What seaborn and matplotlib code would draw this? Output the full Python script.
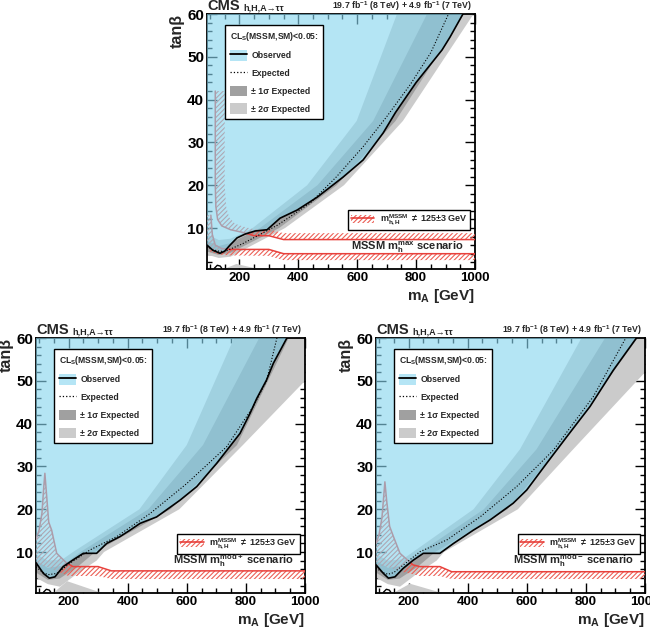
import matplotlib
matplotlib.use("Agg")
import matplotlib.pyplot as plt
import seaborn as sns
from matplotlib.patches import Patch
from matplotlib.lines import Line2D
from matplotlib.ticker import MultipleLocator

# ---------------- DATA (mA [GeV], tan beta) ----------------
# --- m_h^max scenario ---
MAX_OBS_MA = [90, 110, 134, 150, 168, 192, 220, 253, 294, 338, 396, 464, 552, 620, 688, 730, 800, 888, 915, 959, 975]
MAX_OBS_TB = [6.0, 4.8, 4.1, 4.6, 6.0, 7.7, 8.6, 9.3, 9.6, 12.3, 14.2, 17.2, 21.9, 25.9, 32.2, 37.0, 44.0, 51.6, 54.6, 60.0, 62.0]
MAX_EXP_MA = [90, 110, 130, 150, 210, 330, 440, 530, 620, 700, 780, 850, 910, 925]
MAX_EXP_TB = [5.6, 4.9, 4.6, 4.5, 6.3, 10.7, 15.8, 22.0, 29.0, 36.0, 43.5, 51.0, 60.0, 62.0]
MAX_P2_MA = [90, 130, 170, 245, 430, 598, 735, 760]
MAX_P2_TB = [8.5, 7.2, 7.5, 10.0, 20.0, 35.0, 60.0, 66.0]
MAX_P1_MA = [90, 130, 170, 270, 465, 654, 837, 860]
MAX_P1_TB = [7.0, 5.8, 6.5, 10.0, 20.0, 35.0, 60.0, 66.0]
MAX_M1_MA = [90, 130, 170, 335, 530, 730, 962, 1000, 1000]
MAX_M1_TB = [4.5, 3.7, 4.2, 10.0, 20.0, 35.0, 60.0, 64.0, 66.0]
MAX_M2_MA = [90, 130, 170, 355, 555, 755, 995, 1000, 1000]
MAX_M2_TB = [3.8, 3.0, 3.3, 10.0, 20.0, 35.0, 60.0, 61.0, 66.0]
MAX_LOW_MA = [150, 190, 260]
MAX_LOW_TB = [0.5, 1.6, 0.5]
# m_h,H != 125+-3 GeV contours (line) and hatch edges
MAX_HI_LINE_MA = [118, 118, 120, 126, 140, 170, 210, 250, 300, 350, 1000]
MAX_HI_LINE_TB = [42.0, 20.0, 15.0, 12.0, 10.5, 9.6, 9.0, 8.2, 8.2, 7.3, 7.3]
MAX_HI_EDGE_MA = [150, 150, 155, 165, 185, 215, 250, 300, 350, 1000]
MAX_HI_EDGE_TB = [42.0, 20.0, 15.0, 12.5, 11.0, 10.3, 9.7, 9.7, 8.8, 8.8]
MAX_LO_LINE_MA = [103, 108, 118, 140, 170, 300, 350, 1000]
MAX_LO_LINE_TB = [13.0, 8.5, 6.0, 5.2, 5.0, 5.0, 4.0, 4.0]
MAX_LO_EDGE_MA = [90, 90, 100, 130, 165, 300, 350, 1000]
MAX_LO_EDGE_TB = [13.0, 7.0, 4.5, 3.8, 3.6, 3.5, 2.5, 2.5]

# --- m_h^mod+ scenario ---
MODP_OBS_MA = [90, 115, 135, 154, 182, 216, 250, 295, 329, 374, 408, 442, 498, 577, 634, 701, 780, 814, 837, 870, 893, 938, 950]
MODP_OBS_TB = [7.5, 5.0, 3.9, 4.2, 6.6, 8.2, 9.7, 9.7, 12.0, 13.6, 15.1, 16.7, 18.2, 22.1, 25.3, 30.7, 37.7, 42.4, 45.9, 50.2, 54.1, 59.9, 62.0]
MODP_EXP_MA = [90, 110, 130, 160, 205, 273, 363, 476, 600, 735, 825, 870, 905, 915]
MODP_EXP_TB = [6.5, 5.4, 4.7, 5.0, 7.4, 10.5, 13.6, 19.0, 26.0, 34.6, 44.0, 50.0, 60.0, 62.0]
MODP_P2_MA = [90, 130, 180, 215, 440, 600, 760, 780]
MODP_P2_TB = [9.5, 8.0, 8.3, 10.0, 20.0, 35.0, 60.0, 66.0]
MODP_P1_MA = [90, 130, 180, 240, 470, 655, 845, 865]
MODP_P1_TB = [8.0, 6.3, 6.8, 10.0, 20.0, 35.0, 60.0, 66.0]
MODP_M1_MA = [90, 130, 170, 230, 290, 545, 770, 945, 960, 1000]
MODP_M1_TB = [5.2, 3.5, 3.8, 6.5, 10.0, 20.0, 35.0, 60.0, 64.0, 66.0]
MODP_M2_MA = [90, 130, 171, 230, 295, 320, 575, 790, 1000, 1000]
MODP_M2_TB = [4.0, 2.5, 1.9, 5.0, 8.0, 10.0, 20.0, 35.0, 50.0, 66.0]
MODP_LOW_MA = [150, 195, 310]
MODP_LOW_TB = [0.5, 3.2, 0.5]
MODP_LINE_MA = [90, 100, 110, 116, 120, 125, 133, 143, 160, 194, 215, 300, 345, 1000]
MODP_LINE_TB = [13.0, 15.0, 19.0, 25.0, 28.4, 24.0, 17.0, 15.1, 9.7, 7.4, 6.6, 6.6, 5.6, 5.6]
MODP_EDGE_MA = [1000, 345, 300, 200, 160, 130, 90]
MODP_EDGE_TB = [3.7, 3.7, 4.4, 4.4, 5.5, 6.5, 7.0]

# --- m_h^mod- scenario ---
MODM_OBS_MA = [90, 115, 132, 154, 182, 216, 250, 306, 352, 419, 476, 554, 600, 667, 735, 814, 893, 970, 980]
MODM_OBS_TB = [7.0, 5.0, 3.9, 4.2, 6.2, 8.1, 9.7, 9.7, 12.0, 15.1, 17.5, 21.4, 24.5, 30.7, 36.9, 44.0, 52.5, 59.9, 62.0]
MODM_EXP_MA = [90, 110, 130, 150, 183, 239, 329, 442, 566, 690, 825, 935, 945]
MODM_EXP_TB = [6.3, 5.3, 4.8, 5.2, 7.0, 10.1, 12.8, 18.2, 25.3, 33.8, 46.3, 60.0, 62.0]
MODM_P2_MA = [90, 130, 180, 215, 420, 577, 785, 805]
MODM_P2_TB = [9.5, 8.0, 8.3, 10.0, 20.0, 34.0, 60.0, 66.0]
MODM_P1_MA = [90, 130, 180, 240, 455, 633, 865, 885]
MODM_P1_TB = [8.0, 6.3, 6.8, 10.0, 20.0, 34.0, 60.0, 66.0]
MODM_M1_MA = [90, 130, 170, 230, 290, 535, 705, 975, 990, 1000]
MODM_M1_TB = [5.2, 3.5, 3.8, 6.5, 10.0, 20.0, 34.0, 60.0, 64.0, 66.0]
MODM_M2_MA = [90, 130, 171, 230, 295, 320, 570, 757, 1000, 1000]
MODM_M2_TB = [4.0, 2.5, 1.9, 5.0, 8.0, 10.0, 20.0, 34.0, 52.0, 66.0]
MODM_LOW_MA = [150, 205, 310]
MODM_LOW_TB = [0.5, 2.6, 0.5]
MODM_LINE_MA = [90, 100, 110, 116, 120, 126, 136, 149, 171, 215, 239, 306, 346, 1000]
MODM_LINE_TB = [12.0, 14.0, 18.0, 23.0, 26.4, 22.0, 16.0, 13.6, 9.7, 7.0, 6.6, 6.6, 5.4, 5.4]
MODM_EDGE_MA = [1000, 346, 306, 239, 171, 130, 90]
MODM_EDGE_TB = [3.7, 3.7, 4.4, 4.4, 5.5, 6.5, 7.0]

# small low-tan(beta) observed contour
LOWOBS_MA = [115, 125, 135, 140]
LOWOBS_TB = [0.6, 1.3, 1.1, 0.6]

X_TICKS = [200, 400, 600, 800, 1000]
Y_TICKS = [10, 20, 30, 40, 50, 60]
SCENARIOS = ["max", "mod+", "mod-"]

# ---------------- STYLE ----------------
sns.set_theme(style="ticks")
plt.rcParams['font.family'] = ['Liberation Sans', 'DejaVu Sans']
plt.rcParams['font.weight'] = 'bold'
plt.rcParams['mathtext.fontset'] = 'custom'
plt.rcParams['mathtext.rm'] = 'Liberation Sans:bold'
plt.rcParams['mathtext.it'] = 'Liberation Sans:bold'
plt.rcParams['mathtext.bf'] = 'Liberation Sans:bold'
plt.rcParams['hatch.linewidth'] = 0.8

BLUE = '#87d5ee'
BLUE_ALPHA = 0.62
BLUE_LEG = '#b5e5f5'
GRAY1 = '#a0a0a0'
GRAY2 = '#cbcbcb'
RED = '#e8413c'
HATCH_RED = '#ec5f55'


def closed(ma1, tb1, ma2, tb2):
    return list(ma1) + list(ma2)[::-1], list(tb1) + list(tb2)[::-1]


def draw_panel(ax, d, scen):
    # expected bands
    xs, ys = closed(d['p2ma'], d['p2tb'], d['m2ma'], d['m2tb'])
    ax.fill(xs, ys, color=GRAY2, lw=0, zorder=1)
    xs, ys = closed(d['p1ma'], d['p1tb'], d['m1ma'], d['m1tb'])
    ax.fill(xs, ys, color=GRAY1, lw=0, zorder=2)
    ax.fill(d['lowma'], d['lowtb'], color=GRAY2, lw=0, zorder=2)
    # hatched m_h regions
    for lma, ltb, ema, etb in d['hatch']:
        if ema[0] < ema[-1]:
            xs, ys = closed(lma, ltb, ema, etb)
        else:
            xs, ys = list(lma) + list(ema), list(ltb) + list(etb)
        ax.fill(xs, ys, facecolor='none', edgecolor=HATCH_RED, hatch='///////', lw=0, zorder=3)
        sns.lineplot(x=lma, y=ltb, sort=False, estimator=None, color=RED, lw=1.1, ax=ax, zorder=3)
    # observed excluded region
    xs = list(d['obsma']) + [d['obsma'][-1], d['obsma'][0]]
    ys = list(d['obstb']) + [70, 70]
    ax.fill(xs, ys, color=BLUE, alpha=BLUE_ALPHA, lw=0, zorder=4)
    # lines
    sns.lineplot(x=d['expma'], y=d['exptb'], sort=False, estimator=None, color='black',
                 lw=0.8, linestyle=':', ax=ax, zorder=5)
    sns.lineplot(x=d['obsma'], y=d['obstb'], sort=False, estimator=None, color='black',
                 lw=1.2, ax=ax, zorder=6)
    sns.lineplot(x=LOWOBS_MA, y=LOWOBS_TB, sort=False, estimator=None, color='black',
                 lw=1.0, ax=ax, zorder=6)

    ax.set_xlim(90, 1000)
    ax.set_ylim(0.5, 60)
    ax.set_xticks(X_TICKS)
    ax.set_yticks(Y_TICKS)
    ax.xaxis.set_minor_locator(MultipleLocator(50))
    ax.yaxis.set_minor_locator(MultipleLocator(2))
    ax.tick_params(which='both', direction='in', top=True, right=True, width=1.0, colors='black')
    ax.tick_params(which='major', length=7)
    ax.tick_params(which='minor', length=3.5)
    ax.tick_params(axis='y', labelsize=11, pad=2)
    ax.tick_params(axis='x', labelsize=9.5, pad=2.5)
    for s in ax.spines.values():
        s.set_linewidth(1.3)
        s.set_color('black')
    ax.set_xlabel('m$_A$ [GeV]', fontsize=11, fontweight='bold', loc='right', labelpad=2)
    ax.set_ylabel('tan\u03b2', fontsize=11.5, fontweight='bold', loc='top', labelpad=2)

    ax.text(0.0, 1.004, 'CMS', transform=ax.transAxes, fontsize=10.5, fontweight='bold',
            ha='left', va='bottom')
    ax.text(0.134, 1.006, 'h,H,A\u2192\u03c4\u03c4', transform=ax.transAxes, fontsize=6.5,
            fontweight='bold', ha='left', va='bottom')
    ax.text(0.99, 1.004, '19.7 fb$^{-1}$ (8 TeV) + 4.9 fb$^{-1}$ (7 TeV)', transform=ax.transAxes,
            fontsize=6.3, fontweight='bold', ha='right', va='bottom')

    handles = [(Patch(facecolor=BLUE_LEG, edgecolor='none'), Line2D([], [], color='black', lw=1.3)),
               Line2D([], [], color='black', lw=0.9, linestyle=':'),
               Patch(facecolor=GRAY1, edgecolor='none'),
               Patch(facecolor=GRAY2, edgecolor='none')]
    labels = ['Observed', 'Expected', '\u00b1 1\u03c3 Expected', '\u00b1 2\u03c3 Expected']
    leg = ax.legend(handles, labels, title='CL$_S$(MSSM,SM)<0.05:', loc='upper left',
                    bbox_to_anchor=(0.067, 0.957), frameon=True, fancybox=False,
                    edgecolor='black', framealpha=1, fontsize=6.2,
                    title_fontproperties={'weight': 'bold', 'size': 6.2},
                    alignment='left', handlelength=2.0, handleheight=1.5,
                    labelspacing=0.85, borderpad=0.55, handletextpad=0.5, borderaxespad=0)
    leg.get_frame().set_linewidth(1.0)
    leg.set_zorder(10)
    ax.add_artist(leg)

    h2 = [(Patch(facecolor='white', edgecolor=HATCH_RED, hatch='///////', lw=0),
           Line2D([], [], color=RED, lw=1.2))]
    leg2 = ax.legend(h2, ['m$^{MSSM}_{h,H}$ $\\neq$ 125\u00b13 GeV'], loc='upper left',
                     bbox_to_anchor=(0.526, 0.231), frameon=True, fancybox=False,
                     edgecolor='black', framealpha=1, fontsize=6.5, handlelength=2.6,
                     handleheight=1.0, borderpad=0.3, handletextpad=0.6, borderaxespad=0)
    leg2.get_frame().set_linewidth(1.0)
    leg2.set_zorder(10)

    ax.text(0.958, 0.085 if scen == 'max' else 0.128, 'MSSM m$_{h}^{%s}$ scenario' % scen,
            transform=ax.transAxes, fontsize=8, fontweight='bold', ha='right', va='center', zorder=11)


def panel_data(prefix):
    g = globals()
    d = {
        'obsma': g[prefix + '_OBS_MA'], 'obstb': g[prefix + '_OBS_TB'],
        'expma': g[prefix + '_EXP_MA'], 'exptb': g[prefix + '_EXP_TB'],
        'p2ma': g[prefix + '_P2_MA'], 'p2tb': g[prefix + '_P2_TB'],
        'p1ma': g[prefix + '_P1_MA'], 'p1tb': g[prefix + '_P1_TB'],
        'm1ma': g[prefix + '_M1_MA'], 'm1tb': g[prefix + '_M1_TB'],
        'm2ma': g[prefix + '_M2_MA'], 'm2tb': g[prefix + '_M2_TB'],
        'lowma': g[prefix + '_LOW_MA'], 'lowtb': g[prefix + '_LOW_TB'],
    }
    if prefix == 'MAX':
        d['hatch'] = [(MAX_HI_LINE_MA, MAX_HI_LINE_TB, MAX_HI_EDGE_MA, MAX_HI_EDGE_TB),
                      (MAX_LO_LINE_MA, MAX_LO_LINE_TB, MAX_LO_EDGE_MA, MAX_LO_EDGE_TB)]
    else:
        d['hatch'] = [(g[prefix + '_LINE_MA'], g[prefix + '_LINE_TB'],
                       g[prefix + '_EDGE_MA'], g[prefix + '_EDGE_TB'])]
    return d


fig = plt.figure(figsize=(6.5, 6.31), dpi=100)
ax_top = fig.add_axes([0.3185, 0.5742, 0.4123, 0.4036])
ax_bl = fig.add_axes([0.0554, 0.0607, 0.4138, 0.4036])
ax_br = fig.add_axes([0.5785, 0.0607, 0.4138, 0.4036])

draw_panel(ax_top, panel_data('MAX'), SCENARIOS[0])
draw_panel(ax_bl, panel_data('MODP'), SCENARIOS[1])
draw_panel(ax_br, panel_data('MODM'), SCENARIOS[2])

fig.savefig('out.png', dpi=100)
